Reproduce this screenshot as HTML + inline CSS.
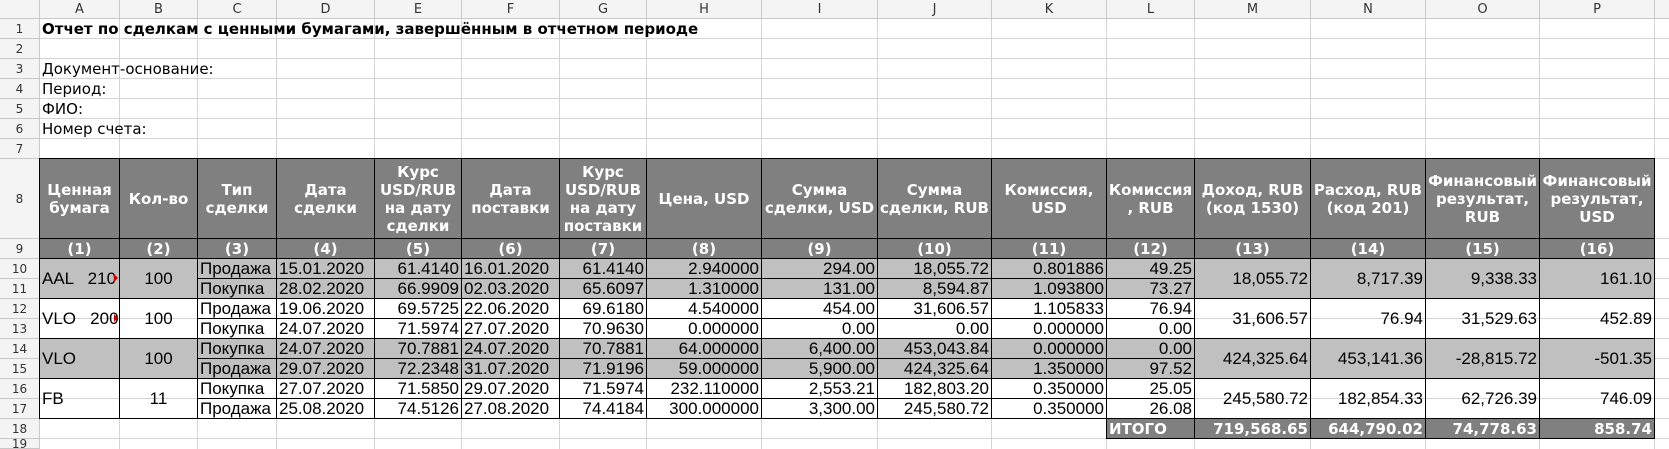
<!DOCTYPE html>
<html><head><meta charset="utf-8">
<style>
html,body{margin:0;padding:0;background:#fff;width:1669px;height:449px;overflow:hidden;}
#sheet{position:relative;width:1669px;height:449px;overflow:hidden;background:#fff;}
.c{position:absolute;box-sizing:border-box;overflow:hidden;white-space:nowrap;font-family:"Liberation Sans","DejaVu Sans",sans-serif;font-size:17px;color:#000;display:flex;align-items:center;padding:0 2px;}
.g{position:absolute;background:#d4d4d4;}
.hdr{position:absolute;box-sizing:border-box;background:#f4f4f4;font-family:"DejaVu Sans",sans-serif;font-size:13px;color:#333;display:flex;align-items:center;justify-content:center;border-right:1px solid #c8c8c8;border-bottom:1px solid #c8c8c8;}
.b{border:1px solid #000;}
.head{background:#808080;color:#fff;font-family:"DejaVu Sans",sans-serif;font-weight:bold;font-size:15px;line-height:18px;justify-content:center;text-align:center;white-space:pre-line;}
.r{justify-content:flex-end;}
.m{justify-content:center;}
.gray{background:#c0c0c0;}
.tot{background:#808080;color:#fff;font-family:"DejaVu Sans",sans-serif;font-weight:bold;font-size:15px;justify-content:flex-end;}
.txt{font-family:"DejaVu Sans",sans-serif;font-size:15px;overflow:visible;}
</style></head><body>
<div id="sheet"></div>
<script>
var X=[0,40,120,198,277,375,462,560,647,762,878,992,1107,1195,1311,1426,1540,1655,1760];
function rowTop(r){ if(r<=7) return 19+(r-1)*20; if(r==8) return 159; if(r==9) return 239; return 259+(r-10)*20; }
function rowBot(r){ if(r==8) return 239; if(r==9) return 259; return rowTop(r)+20; }
var colLetters=["A","B","C","D","E","F","G","H","I","J","K","L","M","N","O","P",""];
var headers=["Ценная бумага","Кол-во","Тип сделки","Дата сделки","Курс USD/RUB на дату сделки","Дата поставки","Курс USD/RUB на дату поставки","Цена, USD","Сумма сделки, USD","Сумма сделки, RUB","Комиссия, USD","Комиссия\n, RUB","Доход, RUB (код 1530)","Расход, RUB (код 201)","Финансовый результат, RUB","Финансовый результат, USD"];
var tradeRows=[
["Продажа","15.01.2020","61.4140","16.01.2020","61.4140","2.940000","294.00","18,055.72","0.801886","49.25"],
["Покупка","28.02.2020","66.9909","02.03.2020","65.6097","1.310000","131.00","8,594.87","1.093800","73.27"],
["Продажа","19.06.2020","69.5725","22.06.2020","69.6180","4.540000","454.00","31,606.57","1.105833","76.94"],
["Покупка","24.07.2020","71.5974","27.07.2020","70.9630","0.000000","0.00","0.00","0.000000","0.00"],
["Покупка","24.07.2020","70.7881","24.07.2020","70.7881","64.000000","6,400.00","453,043.84","0.000000","0.00"],
["Продажа","29.07.2020","72.2348","31.07.2020","71.9196","59.000000","5,900.00","424,325.64","1.350000","97.52"],
["Покупка","27.07.2020","71.5850","29.07.2020","71.5974","232.110000","2,553.21","182,803.20","0.350000","25.05"],
["Продажа","25.08.2020","74.5126","27.08.2020","74.4184","300.000000","3,300.00","245,580.72","0.350000","26.08"]];
var groupNames=["AAL   210","VLO   200","VLO","FB"];
var groupQty=["100","100","100","11"];
var groupTotals=[["18,055.72","8,717.39","9,338.33","161.10"],["31,606.57","76.94","31,529.63","452.89"],["424,325.64","453,141.36","-28,815.72","-501.35"],["245,580.72","182,854.33","62,726.39","746.09"]];
var grandTotals=["719,568.65","644,790.02","74,778.63","858.74"];
var S=document.getElementById('sheet');
function mk(cls,c1,c2,r1,r2,txt,name){
  var d=document.createElement('div');
  d.className='c '+cls;
  var b=cls.indexOf('b')>=0?1:0;
  d.style.left=(X[c1]-b)+'px'; d.style.width=(X[c2+1]-X[c1]+b)+'px';
  d.style.top=(rowTop(r1)-b)+'px'; d.style.height=(rowBot(r2)-rowTop(r1)+b)+'px';
  d.textContent=txt;
  
  
  S.appendChild(d); return d;
}
for(var i=1;i<X.length;i++){var g=document.createElement('div');g.className='g';g.style.left=(X[i]-1)+'px';g.style.top='19px';g.style.width='1px';g.style.height='430px';


S.appendChild(g);}
for(var r=1;r<=19;r++){var g=document.createElement('div');g.className='g';g.style.left='40px';g.style.top=(rowBot(r)-1)+'px';g.style.width='1629px';g.style.height='1px';


S.appendChild(g);}
for(var i=0;i<17;i++){var h=document.createElement('div');h.className='hdr';h.style.left=X[i+1]+'px';h.style.top='0px';h.style.width=(X[i+2]-X[i+1])+'px';h.style.height='19px';h.textContent=colLetters[i];


S.appendChild(h);}
var corner=document.createElement('div');corner.className='hdr';corner.style.left='0';corner.style.top='0';corner.style.width='40px';corner.style.height='19px';


S.appendChild(corner);
for(var r=1;r<=19;r++){var h=document.createElement('div');h.className='hdr';h.style.left='0';h.style.top=rowTop(r)+'px';h.style.width='40px';h.style.height=Math.min(rowBot(r)-rowTop(r),449-rowTop(r))+'px';h.style.fontSize='12px';h.textContent=r;


S.appendChild(h);}
var t=mk('txt',1,1,1,1,'Отчет по сделкам с ценными бумагами, завершённым в отчетном периоде','report-title');t.style.fontWeight='bold';
mk('txt',1,1,3,3,'Документ-основание:','document-basis-label');
mk('txt',1,1,4,4,'Период:','period-label');
mk('txt',1,1,5,5,'ФИО:','full-name-label');
mk('txt',1,1,6,6,'Номер счета:','account-number-label');
for(var i=0;i<16;i++){
  mk('b head',i+1,i+1,8,8,headers[i],'column-title-'+(i+1));
  mk('b head',i+1,i+1,9,9,'('+(i+1)+')','column-number-'+(i+1));
}
for(var gi=0;gi<4;gi++){
  var r1=10+gi*2, fill=(gi%2==0)?' gray':'';
  var a=mk('b'+fill,1,1,r1,r1+1,groupNames[gi],'security-'+gi);
  a.style.whiteSpace='pre';
  if(gi<2){var tri=document.createElement('span');tri.style.cssText='position:absolute;right:1px;top:15px;width:0;height:0;border-top:4px solid transparent;border-bottom:4px solid transparent;border-left:4px solid #c00;';
  
  
  a.appendChild(tri);}
  mk('b m'+fill,2,2,r1,r1+1,groupQty[gi],'quantity-'+gi);
  for(var k=0;k<2;k++){
    var row=tradeRows[gi*2+k];
    for(var j=0;j<10;j++){
      var al=(j==0||j==1||j==3)?'':' r';
      mk('b'+al+fill,3+j,3+j,r1+k,r1+k,row[j],'trade-'+(gi*2+k)+'-col-'+(3+j));
    }
  }
  for(var j=0;j<4;j++) mk('b r'+fill,13+j,13+j,r1,r1+1,groupTotals[gi][j],'group-result-'+gi+'-col-'+(13+j));
}
var it=mk('b tot',12,12,18,18,'ИТОГО','total-label');it.style.justifyContent='flex-start';
for(var j=0;j<4;j++) mk('b tot',13+j,13+j,18,18,grandTotals[j],'grand-total-'+(13+j));
</script>
</body></html>
